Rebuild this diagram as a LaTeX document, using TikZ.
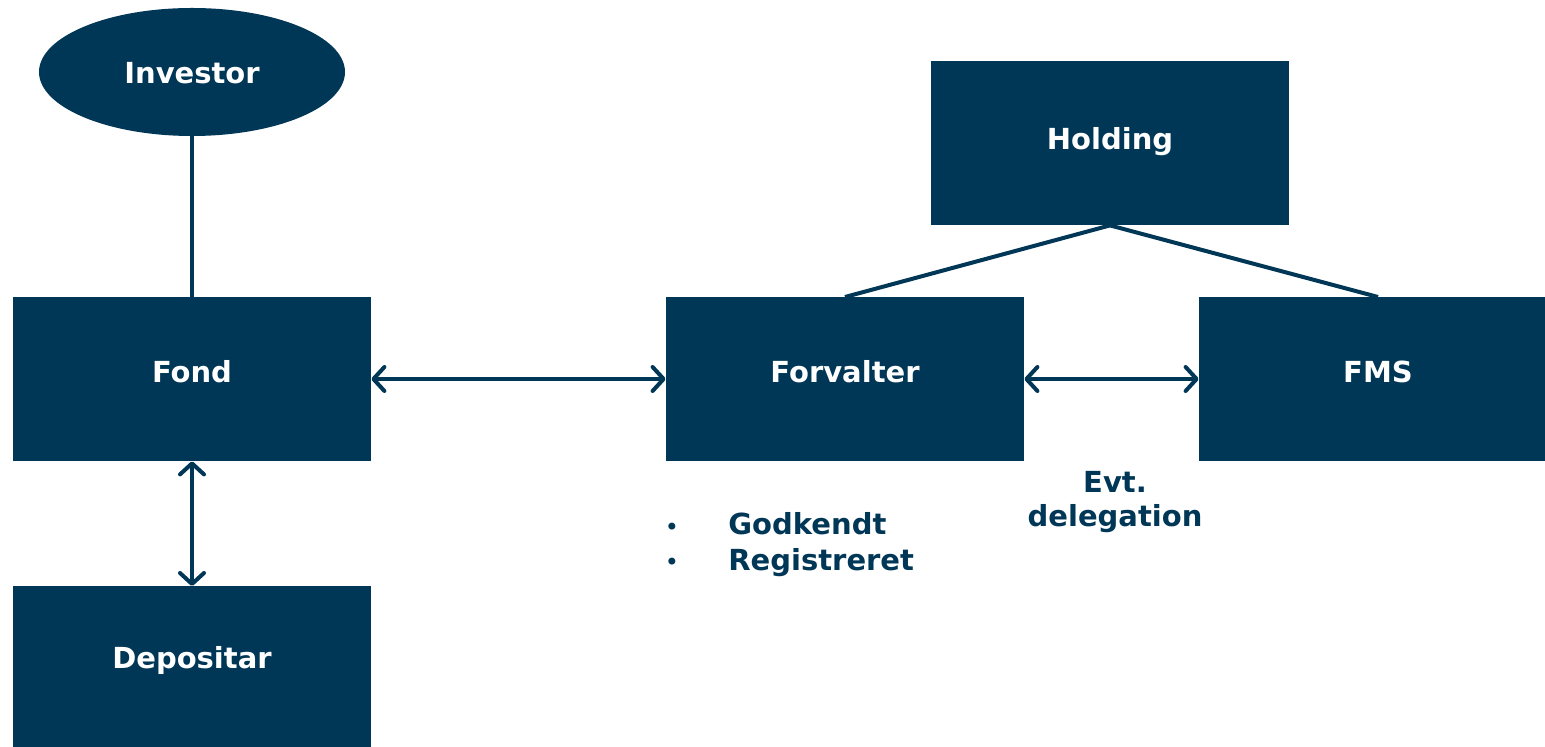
\documentclass[tikz,border=0pt]{standalone}
\usepackage{fontspec}
\setmainfont{DejaVu Sans}
\usetikzlibrary{arrows.meta,shapes.geometric}
\definecolor{navy}{RGB}{0,54,86}
\begin{document}
\begin{tikzpicture}[x=0.5pt,y=-0.5pt,
  box/.style={draw=none,fill=navy,text=white,inner sep=0pt},
  conn/.style={draw=navy,line width=2pt},
  dbl/.style={conn,{Straight Barb[length=5.5pt,width=12pt,line cap=round,line join=round]}-{Straight Barb[length=5.5pt,width=12pt,line cap=round,line join=round]}},
  lbl/.style={text=navy,font=\bfseries\fontsize{14.5}{17}\selectfont,align=center,inner sep=0pt}]
\useasboundingbox (0,0) rectangle (1545,747);
\node[box,ellipse,minimum width=153pt,minimum height=64pt] (inv) at (192,72) {};
\node[lbl,text=white] at (192,73) {Investor};
\node[box,rectangle,minimum width=179pt,minimum height=82pt] (fond) at (192,379) {};
\node[lbl,text=white] at (192,372) {Fond};
\node[box,rectangle,minimum width=179pt,minimum height=80.5pt,anchor=north] (dep) at (192,586) {};
\node[lbl,text=white] at (192,660) {Depositar};
\node[box,rectangle,minimum width=179pt,minimum height=82pt] (hold) at (1110,143) {};
\node[lbl,text=white] at (1110,142) {Holding};
\node[box,rectangle,minimum width=179pt,minimum height=82pt] (forv) at (845,379) {};
\node[lbl,text=white] at (845,372) {Forvalter};
\node[box,rectangle,minimum width=173pt,minimum height=82pt] (fms) at (1372,379) {};
\node[lbl,text=white] at (1378,372) {FMS};
\coordinate (forvtop) at (845,297);
\coordinate (fmstop) at (1378,297);
\draw[conn] (inv.south) -- (fond.north);
\draw[conn] (hold.south) -- (forvtop);
\draw[conn] (hold.south) -- (fmstop);
\draw[dbl] (fond.east) -- (forv.west);
\draw[dbl] (forv.east) -- (fms.west);
\draw[dbl] (fond.south) -- (dep.north);
\node[lbl] (evt) at (1115,502) {Evt.\\delegation};
\node[lbl,anchor=base west] (god) at (728,535) {Godkendt};
\node[lbl,anchor=base west] (reg) at (728,570) {Registreret};
\node[lbl,font=\fontsize{12}{14}\selectfont] (b1) at (672,529) {•};
\node[lbl,font=\fontsize{12}{14}\selectfont] (b2) at (672,564) {•};
\end{tikzpicture}
\end{document}
